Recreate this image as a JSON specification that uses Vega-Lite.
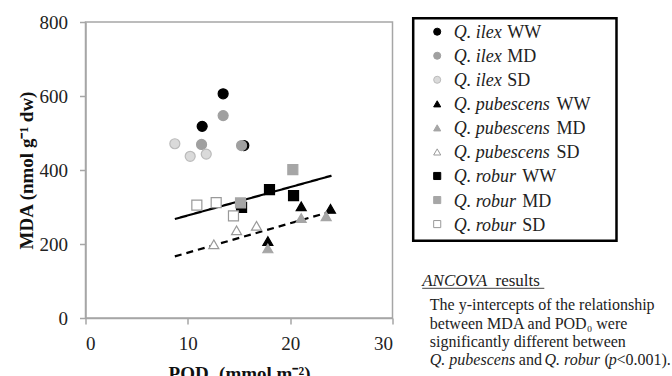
{
  "$schema": "https://vega.github.io/schema/vega-lite/v6.json",
  "padding": {"left": 15.5, "top": 12, "right": 0, "bottom": 0},
  "autosize": {"type": "pad"},
  "background": "white",
  "bounds": "flush",
  "spacing": 20,
  "config": {"view": {"stroke": null}, "font": "Liberation Serif", "axis": {"labelFont": "Liberation Serif", "titleFont": "Liberation Serif"}, "text": {"font": "Liberation Serif"}},
  "datasets": {
    "points": [
      {"series": "Q. ilex WW", "species": "Q. ilex", "pod": 11.4, "mda": 518},
      {"series": "Q. ilex WW", "species": "Q. ilex", "pod": 13.45, "mda": 606},
      {"series": "Q. ilex WW", "species": "Q. ilex", "pod": 15.47, "mda": 466},
      {"series": "Q. ilex MD", "species": "Q. ilex", "pod": 11.34, "mda": 469},
      {"series": "Q. ilex MD", "species": "Q. ilex", "pod": 13.45, "mda": 547},
      {"series": "Q. ilex MD", "species": "Q. ilex", "pod": 15.25, "mda": 466},
      {"series": "Q. ilex SD", "species": "Q. ilex", "pod": 8.73, "mda": 471},
      {"series": "Q. ilex SD", "species": "Q. ilex", "pod": 10.23, "mda": 437},
      {"series": "Q. ilex SD", "species": "Q. ilex", "pod": 11.8, "mda": 443},
      {"series": "Q. pubescens WW", "species": "Q. pubescens", "pod": 17.82, "mda": 208},
      {"series": "Q. pubescens WW", "species": "Q. pubescens", "pod": 21.08, "mda": 302},
      {"series": "Q. pubescens WW", "species": "Q. pubescens", "pod": 23.94, "mda": 295},
      {"series": "Q. pubescens MD", "species": "Q. pubescens", "pod": 17.82, "mda": 188},
      {"series": "Q. pubescens MD", "species": "Q. pubescens", "pod": 21.08, "mda": 270},
      {"series": "Q. pubescens MD", "species": "Q. pubescens", "pod": 23.52, "mda": 275},
      {"series": "Q. pubescens SD", "species": "Q. pubescens", "pod": 12.54, "mda": 199},
      {"series": "Q. pubescens SD", "species": "Q. pubescens", "pod": 14.76, "mda": 237},
      {"series": "Q. pubescens SD", "species": "Q. pubescens", "pod": 16.71, "mda": 249},
      {"series": "Q. robur WW", "species": "Q. robur", "pod": 15.25, "mda": 299},
      {"series": "Q. robur WW", "species": "Q. robur", "pod": 17.98, "mda": 347},
      {"series": "Q. robur WW", "species": "Q. robur", "pod": 20.33, "mda": 331},
      {"series": "Q. robur MD", "species": "Q. robur", "pod": 20.26, "mda": 401},
      {"series": "Q. robur MD", "species": "Q. robur", "pod": 15.15, "mda": 311},
      {"series": "Q. robur SD", "species": "Q. robur", "pod": 10.88, "mda": 305},
      {"series": "Q. robur SD", "species": "Q. robur", "pod": 12.77, "mda": 312},
      {"series": "Q. robur SD", "species": "Q. robur", "pod": 14.46, "mda": 276}
    ],
    "fits": [
      {"fit": "Q. robur", "pod": 8.73, "mda": 267.5},
      {"fit": "Q. robur", "pod": 24.04, "mda": 384.6},
      {"fit": "Q. pubescens", "pod": 8.73, "mda": 166.5},
      {"fit": "Q. pubescens", "pod": 24.04, "mda": 288}
    ],
    "legend": [
      {"order": 1, "species": "Q. ilex", "treatment": "WW", "series": "Q. ilex WW"},
      {"order": 2, "species": "Q. ilex", "treatment": "MD", "series": "Q. ilex MD"},
      {"order": 3, "species": "Q. ilex", "treatment": "SD", "series": "Q. ilex SD"},
      {"order": 4, "species": "Q. pubescens", "treatment": "WW", "series": "Q. pubescens WW"},
      {"order": 5, "species": "Q. pubescens", "treatment": "MD", "series": "Q. pubescens MD"},
      {"order": 6, "species": "Q. pubescens", "treatment": "SD", "series": "Q. pubescens SD"},
      {"order": 7, "species": "Q. robur", "treatment": "WW", "series": "Q. robur WW"},
      {"order": 8, "species": "Q. robur", "treatment": "MD", "series": "Q. robur MD"},
      {"order": 9, "species": "Q. robur", "treatment": "SD", "series": "Q. robur SD"}
    ]
  },
  "hconcat": [
    {
      "width": 307,
      "height": 296,
      "view": {"stroke": "#a6a6a6", "strokeWidth": 1.5},
      "encoding": {
        "x": {"field": "pod", "type": "quantitative", "scale": {"domain": [0, 30], "nice": false},
          "axis": {"values": [0, 10, 20, 30], "title": "POD₀ (mmol m⁻²)", "grid": false,
            "domainColor": "#a6a6a6", "domainWidth": 1.5, "tickColor": "#a6a6a6", "tickWidth": 1.5, "tickSize": 6,
            "labelFont": "Liberation Serif", "labelFontSize": 19, "labelColor": "#222", "labelPadding": 10,
            "titleFont": "Liberation Serif", "titleFontSize": 19, "titleFontWeight": "bold", "titleColor": "#111", "titlePadding": 11}},
        "y": {"field": "mda", "type": "quantitative", "scale": {"domain": [0, 800], "nice": false},
          "axis": {"values": [0, 200, 400, 600, 800], "title": "MDA (nmol g⁻¹ dw)", "grid": false,
            "domainColor": "#a6a6a6", "domainWidth": 1.5, "tickColor": "#a6a6a6", "tickWidth": 1.5, "tickSize": 6,
            "labelFont": "Liberation Serif", "labelFontSize": 19, "labelColor": "#222", "labelPadding": 12,
            "titleFont": "Liberation Serif", "titleFontSize": 19, "titleFontWeight": "bold", "titleColor": "#111", "titlePadding": 3}}
      },
      "layer": [
        {
          "data": {"name": "fits"},
          "mark": {"type": "line", "color": "black", "strokeWidth": 2.2},
          "encoding": {
            "detail": {"field": "fit"},
            "strokeDash": {"field": "fit", "type": "nominal", "scale": {"domain": ["Q. robur", "Q. pubescens"], "range": [[1, 0], [7, 5]]}, "legend": null}
          }
        },
        {
          "data": {"name": "points"},
          "mark": {"type": "point", "filled": true, "opacity": 1, "fillOpacity": 1, "strokeOpacity": 1, "strokeWidth": 1.2, "size": 100},
          "encoding": {
            "shape": {"field": "species", "type": "nominal", "scale": {"domain": ["Q. ilex", "Q. pubescens", "Q. robur"], "range": ["circle", "triangle-up", "square"]}, "legend": null},
            "fill": {"field": "series", "type": "nominal", "scale": {"domain": ["Q. ilex WW", "Q. ilex MD", "Q. ilex SD", "Q. pubescens WW", "Q. pubescens MD", "Q. pubescens SD", "Q. robur WW", "Q. robur MD", "Q. robur SD"], "range": ["#000000", "#a0a0a0", "#dadada", "#000000", "#a6a6a6", "#ffffff", "#000000", "#a6a6a6", "#ffffff"]}, "legend": null},
            "stroke": {"field": "series", "type": "nominal", "scale": {"domain": ["Q. ilex WW", "Q. ilex MD", "Q. ilex SD", "Q. pubescens WW", "Q. pubescens MD", "Q. pubescens SD", "Q. robur WW", "Q. robur MD", "Q. robur SD"], "range": ["#000000", "#a0a0a0", "#bbbbbb", "#000000", "#a6a6a6", "#999999", "#000000", "#a6a6a6", "#999999"]}, "legend": null}
          }
        }
      ]
    },
    {
      "width": 260,
      "height": 296,
      "view": {"stroke": null},
      "layer": [
        {
          "data": {"values": [{}]},
          "mark": {"type": "rect", "fillOpacity": 0, "stroke": "black", "strokeWidth": 2.5},
          "encoding": {
            "x": {"datum": 0.27, "type": "quantitative", "scale": {"domain": [0, 100], "nice": false, "zero": false}, "axis": null},
            "x2": {"datum": 78.46},
            "y": {"datum": 0.443, "type": "quantitative", "scale": {"domain": [0.597, 12.905], "nice": false, "zero": false, "reverse": true}, "axis": null},
            "y2": {"datum": 9.69}
          }
        },
        {
          "data": {"name": "legend"},
          "mark": {"type": "point", "filled": true, "opacity": 1, "fillOpacity": 1, "strokeOpacity": 1, "strokeWidth": 1, "size": 50},
          "encoding": {
            "x": {"datum": 9.5, "type": "quantitative", "axis": null},
            "y": {"field": "order", "type": "quantitative", "axis": null},
            "shape": {"field": "species", "type": "nominal", "scale": {"domain": ["Q. ilex", "Q. pubescens", "Q. robur"], "range": ["circle", "triangle-up", "square"]}, "legend": null},
            "fill": {"field": "series", "type": "nominal", "scale": {"domain": ["Q. ilex WW", "Q. ilex MD", "Q. ilex SD", "Q. pubescens WW", "Q. pubescens MD", "Q. pubescens SD", "Q. robur WW", "Q. robur MD", "Q. robur SD"], "range": ["#000000", "#a0a0a0", "#dadada", "#000000", "#a6a6a6", "#ffffff", "#000000", "#a6a6a6", "#ffffff"]}, "legend": null},
            "stroke": {"field": "series", "type": "nominal", "scale": {"domain": ["Q. ilex WW", "Q. ilex MD", "Q. ilex SD", "Q. pubescens WW", "Q. pubescens MD", "Q. pubescens SD", "Q. robur WW", "Q. robur MD", "Q. robur SD"], "range": ["#000000", "#a0a0a0", "#bbbbbb", "#000000", "#a6a6a6", "#999999", "#000000", "#a6a6a6", "#999999"]}, "legend": null}
          }
        },
        {
          "data": {"name": "legend"},
          "mark": {"type": "text", "align": "left", "baseline": "alphabetic", "dy": 6.5, "fontStyle": "italic", "fontSize": 18, "font": "Liberation Serif", "color": "#222"},
          "encoding": {
            "x": {"datum": 15.88, "type": "quantitative", "axis": null},
            "y": {"field": "order", "type": "quantitative", "axis": null},
            "text": {"field": "species"}
          }
        },
        {
          "data": {"name": "legend"},
          "transform": [{"filter": "datum.species === 'Q. ilex'"}],
          "mark": {"type": "text", "align": "left", "baseline": "alphabetic", "dy": 6.5, "fontSize": 18, "font": "Liberation Serif", "color": "#222"},
          "encoding": {
            "x": {"datum": 36.42, "type": "quantitative", "axis": null},
            "y": {"field": "order", "type": "quantitative", "axis": null},
            "text": {"field": "treatment"}
          }
        },
        {
          "data": {"name": "legend"},
          "transform": [{"filter": "datum.species === 'Q. pubescens'"}],
          "mark": {"type": "text", "align": "left", "baseline": "alphabetic", "dy": 6.5, "fontSize": 18, "font": "Liberation Serif", "color": "#222"},
          "encoding": {
            "x": {"datum": 55.38, "type": "quantitative", "axis": null},
            "y": {"field": "order", "type": "quantitative", "axis": null},
            "text": {"field": "treatment"}
          }
        },
        {
          "data": {"name": "legend"},
          "transform": [{"filter": "datum.species === 'Q. robur'"}],
          "mark": {"type": "text", "align": "left", "baseline": "alphabetic", "dy": 6.5, "fontSize": 18, "font": "Liberation Serif", "color": "#222"},
          "encoding": {
            "x": {"datum": 42.19, "type": "quantitative", "axis": null},
            "y": {"field": "order", "type": "quantitative", "axis": null},
            "text": {"field": "treatment"}
          }
        },
        {
          "data": {"values": [{"label": "ANCOVA"}]},
          "mark": {"type": "text", "align": "left", "baseline": "alphabetic", "fontStyle": "italic", "fontSize": 17, "font": "Liberation Serif", "color": "#222"},
          "encoding": {
            "x": {"datum": 3.73, "type": "quantitative", "axis": null},
            "y": {"datum": 11.574, "type": "quantitative", "axis": null},
            "text": {"field": "label"}
          }
        },
        {
          "data": {"values": [{"label": "results"}]},
          "mark": {"type": "text", "align": "left", "baseline": "alphabetic", "fontSize": 17, "font": "Liberation Serif", "color": "#222"},
          "encoding": {
            "x": {"datum": 31.92, "type": "quantitative", "axis": null},
            "y": {"datum": 11.574, "type": "quantitative", "axis": null},
            "text": {"field": "label"}
          }
        },
        {
          "data": {"values": [{}]},
          "mark": {"type": "rule", "color": "#444", "strokeWidth": 1},
          "encoding": {
            "x": {"datum": 3.73, "type": "quantitative", "axis": null},
            "x2": {"datum": 50.7},
            "y": {"datum": 11.67, "type": "quantitative", "axis": null}
          }
        },
        {
          "data": {"values": [{"label": "The y-intercepts of the relationship"}]},
          "mark": {"type": "text", "align": "left", "baseline": "alphabetic", "fontSize": 16, "font": "Liberation Serif", "color": "#222"},
          "encoding": {
            "x": {"datum": 6.65, "type": "quantitative", "axis": null},
            "y": {"datum": 12.593, "type": "quantitative", "axis": null},
            "text": {"field": "label"}
          }
        },
        {
          "data": {"values": [{"label": "between MDA and POD₀ were"}]},
          "mark": {"type": "text", "align": "left", "baseline": "alphabetic", "fontSize": 16, "font": "Liberation Serif", "color": "#222"},
          "encoding": {
            "x": {"datum": 6.65, "type": "quantitative", "axis": null},
            "y": {"datum": 13.354, "type": "quantitative", "axis": null},
            "text": {"field": "label"}
          }
        },
        {
          "data": {"values": [{"label": "significantly different between"}]},
          "mark": {"type": "text", "align": "left", "baseline": "alphabetic", "fontSize": 16, "font": "Liberation Serif", "color": "#222"},
          "encoding": {
            "x": {"datum": 6.65, "type": "quantitative", "axis": null},
            "y": {"datum": 14.119, "type": "quantitative", "axis": null},
            "text": {"field": "label"}
          }
        },
        {
          "data": {"values": [{"label": "Q. pubescens"}]},
          "mark": {"type": "text", "align": "left", "baseline": "alphabetic", "fontSize": 16, "fontStyle": "italic", "font": "Liberation Serif", "color": "#222"},
          "encoding": {
            "x": {"datum": 6.65, "type": "quantitative", "axis": null},
            "y": {"datum": 14.88, "type": "quantitative", "axis": null},
            "text": {"field": "label"}
          }
        },
        {
          "data": {"values": [{"label": "and"}]},
          "mark": {"type": "text", "align": "left", "baseline": "alphabetic", "fontSize": 16, "font": "Liberation Serif", "color": "#222"},
          "encoding": {
            "x": {"datum": 40.88, "type": "quantitative", "axis": null},
            "y": {"datum": 14.88, "type": "quantitative", "axis": null},
            "text": {"field": "label"}
          }
        },
        {
          "data": {"values": [{"label": "Q. robur"}]},
          "mark": {"type": "text", "align": "left", "baseline": "alphabetic", "fontSize": 16, "fontStyle": "italic", "font": "Liberation Serif", "color": "#222"},
          "encoding": {
            "x": {"datum": 50.77, "type": "quantitative", "axis": null},
            "y": {"datum": 14.88, "type": "quantitative", "axis": null},
            "text": {"field": "label"}
          }
        },
        {
          "data": {"values": [{"label": "("}]},
          "mark": {"type": "text", "align": "left", "baseline": "alphabetic", "fontSize": 16, "font": "Liberation Serif", "color": "#222"},
          "encoding": {
            "x": {"datum": 73.85, "type": "quantitative", "axis": null},
            "y": {"datum": 14.88, "type": "quantitative", "axis": null},
            "text": {"field": "label"}
          }
        },
        {
          "data": {"values": [{"label": "p"}]},
          "mark": {"type": "text", "align": "left", "baseline": "alphabetic", "fontSize": 16, "fontStyle": "italic", "font": "Liberation Serif", "color": "#222"},
          "encoding": {
            "x": {"datum": 75.5, "type": "quantitative", "axis": null},
            "y": {"datum": 14.88, "type": "quantitative", "axis": null},
            "text": {"field": "label"}
          }
        },
        {
          "data": {"values": [{"label": "<0.001)."}]},
          "mark": {"type": "text", "align": "left", "baseline": "alphabetic", "fontSize": 16, "font": "Liberation Serif", "color": "#222"},
          "encoding": {
            "x": {"datum": 78.46, "type": "quantitative", "axis": null},
            "y": {"datum": 14.88, "type": "quantitative", "axis": null},
            "text": {"field": "label"}
          }
        }
      ]
    }
  ]
}
